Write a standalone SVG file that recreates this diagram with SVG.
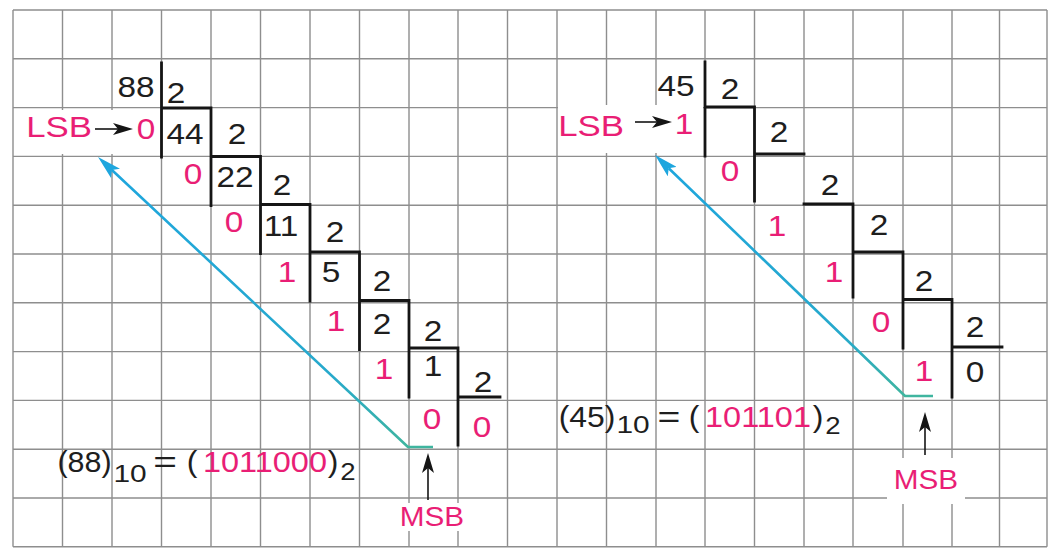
<svg xmlns="http://www.w3.org/2000/svg" width="1058" height="555" viewBox="0 0 1058 555">
<defs>
<style>
.grid{stroke:#8e8e8e;stroke-width:1.4;fill:none}
.div{stroke:#151515;stroke-width:2.8;fill:none;stroke-linecap:square}
text{font-family:"Liberation Sans",Arial,Helvetica,sans-serif}
.k{fill:#1e1e1e;font-size:29px;text-anchor:middle}
.m{fill:#e91e75;font-size:29px;text-anchor:middle}
.msb{font-size:27px}
.sub{font-size:23px}
.arr{stroke:#151515;stroke-width:1.6;fill:none}
.blue{stroke-width:2.6;fill:none;stroke-linejoin:round}
.mask{fill:#ffffff}
</style>
<marker id="ah" viewBox="0 0 20 12" refX="5" refY="6" markerWidth="20" markerHeight="12" markerUnits="userSpaceOnUse" orient="auto">
<path d="M0,0 L20,6 L0,12 L5,6 z" fill="#151515"/>
</marker>
<marker id="bh" viewBox="0 0 24 13" refX="5" refY="6.5" markerWidth="24" markerHeight="13" markerUnits="userSpaceOnUse" orient="auto">
<path d="M0,0 L24,6.5 L0,13 L5,6.5 z" fill="#1ea6de"/>
</marker>
<linearGradient id="gl" gradientUnits="userSpaceOnUse" x1="408" y1="447" x2="98" y2="157">
<stop offset="0" stop-color="#3fb59f"/><stop offset="0.25" stop-color="#27a9cc"/><stop offset="1" stop-color="#1ea6de"/>
</linearGradient>
<linearGradient id="gr" gradientUnits="userSpaceOnUse" x1="905" y1="396" x2="655" y2="155">
<stop offset="0" stop-color="#3fb59f"/><stop offset="0.25" stop-color="#27a9cc"/><stop offset="1" stop-color="#1ea6de"/>
</linearGradient>
</defs>
<rect x="0" y="0" width="1058" height="555" fill="#ffffff"/>
<g id="grid">
<path class="grid" d="M13,10V546.8 M62.5,10V546.8 M112,10V546.8 M161.5,10V546.8 M211,10V546.8 M260.5,10V546.8 M310,10V546.8 M359.5,10V546.8 M409,10V546.8 M458,10V546.8 M507.5,10V546.8 M557,10V546.8 M606.5,10V546.8 M656,10V546.8 M705,10V546.8 M754.5,10V546.8 M804,10V546.8 M853,10V546.8 M903,10V546.8 M952,10V546.8 M999.5,10V546.8 M1047,10V546.8 M13,10H1047 M13,58.8H1047 M13,107.6H1047 M13,156.4H1047 M13,205.2H1047 M13,254H1047 M13,302.8H1047 M13,351.6H1047 M13,400.4H1047 M13,449.2H1047 M13,498H1047 M13,546.8H1047"/>
</g>
<g id="label-backgrounds">
<rect class="mask" x="17" y="110" width="140" height="44"/>
<rect class="mask" x="558" y="105" width="145" height="48"/>
<rect class="mask" x="399" y="503" width="68" height="28"/>
<rect class="mask" x="887" y="458" width="78" height="46"/>
</g>
<g id="division-88">
<path class="div" d="M161.5,63V157 M161.5,108H211 M211,108V205.5 M211,156.5H260.5 M260.5,156.5V253.5 M260.5,204.5H310 M310,204.5V301 M310,252H359.5 M359.5,252V349.5 M359.5,300.5H409 M409,300.5V397 M409,348H458 M458,348V445 M458,397H500"/>
<text class="k" transform="translate(136,97) scale(1.15,1)">88</text>
<text class="k" transform="translate(176,103) scale(1.15,1)">2</text>
<text class="k" transform="translate(185,144) scale(1.15,1)">44</text>
<text class="k" transform="translate(237,144) scale(1.15,1)">2</text>
<text class="k" transform="translate(235,187) scale(1.15,1)">22</text>
<text class="k" transform="translate(282,195) scale(1.15,1)">2</text>
<text class="k" transform="translate(281,236) scale(1.15,1)">11</text>
<text class="k" transform="translate(335,242) scale(1.15,1)">2</text>
<text class="k" transform="translate(331,282) scale(1.15,1)">5</text>
<text class="k" transform="translate(382,291) scale(1.15,1)">2</text>
<text class="k" transform="translate(382,334) scale(1.15,1)">2</text>
<text class="k" transform="translate(433,341) scale(1.15,1)">2</text>
<text class="k" transform="translate(433,376) scale(1.15,1)">1</text>
<text class="k" transform="translate(483,392) scale(1.15,1)">2</text>
<text class="m" transform="translate(146,139) scale(1.15,1)">0</text>
<text class="m" transform="translate(193,184) scale(1.15,1)">0</text>
<text class="m" transform="translate(234,232) scale(1.15,1)">0</text>
<text class="m" transform="translate(287,282) scale(1.15,1)">1</text>
<text class="m" transform="translate(336,331) scale(1.15,1)">1</text>
<text class="m" transform="translate(384,379) scale(1.15,1)">1</text>
<text class="m" transform="translate(432,429) scale(1.15,1)">0</text>
<text class="m" transform="translate(482,437) scale(1.15,1)">0</text>
</g>
<g id="division-45">
<path class="div" d="M705,62V156 M705,107H754.5 M754.5,107V201 M754.5,154H804 M804,204H853 M853,204V297 M853,252H903 M903,252V348 M903,299.5H952 M952,299.5V397 M952,347H1002"/>
<text class="k" transform="translate(676,96) scale(1.15,1)">45</text>
<text class="k" transform="translate(730,99) scale(1.15,1)">2</text>
<text class="k" transform="translate(779,142) scale(1.15,1)">2</text>
<text class="k" transform="translate(830,195) scale(1.15,1)">2</text>
<text class="k" transform="translate(879,235) scale(1.15,1)">2</text>
<text class="k" transform="translate(924,291) scale(1.15,1)">2</text>
<text class="k" transform="translate(975,337) scale(1.15,1)">2</text>
<text class="k" transform="translate(975,382) scale(1.15,1)">0</text>
<text class="m" transform="translate(684,134) scale(1.15,1)">1</text>
<text class="m" transform="translate(730,181) scale(1.15,1)">0</text>
<text class="m" transform="translate(777,236) scale(1.15,1)">1</text>
<text class="m" transform="translate(834,282) scale(1.15,1)">1</text>
<text class="m" transform="translate(881,332) scale(1.15,1)">0</text>
<text class="m" transform="translate(924,381) scale(1.15,1)">1</text>
</g>
<g id="label-lsb-88"><text class="m" transform="translate(59,137) scale(1.2,1)">LSB</text></g>
<g id="label-msb-88"><text class="m msb" transform="translate(432,526) scale(1.1,1)">MSB</text></g>
<g id="label-lsb-45"><text class="m" transform="translate(591,136) scale(1.2,1)">LSB</text></g>
<g id="label-msb-45"><text class="m msb" transform="translate(926,489) scale(1.1,1)">MSB</text></g>
<g id="result-88">
<text class="k" transform="translate(84.5,472) scale(1.05,1)">(88)</text>
<text class="k sub" transform="translate(130,482) scale(1.3,1)">10</text>
<text class="k" transform="translate(165,472) scale(1.4,1)">=</text>
<text class="k" transform="translate(192,472) scale(1.1,1)">(</text>
<text class="m" transform="translate(265,472) scale(1.12,1)">1011000</text>
<text class="k" transform="translate(333,472) scale(1.1,1)">)</text>
<text class="k sub" transform="translate(348,480) scale(1.2,1)">2</text>
</g>
<g id="result-45">
<text class="k" transform="translate(587,427) scale(1.1,1)">(45)</text>
<text class="k sub" transform="translate(633,433) scale(1.3,1)">10</text>
<text class="k" transform="translate(669,427) scale(1.35,1)">=</text>
<text class="k" transform="translate(694,427) scale(1.1,1)">(</text>
<text class="m" transform="translate(758,427) scale(1.12,1)">101101</text>
<text class="k" transform="translate(818,427) scale(1.1,1)">)</text>
<text class="k sub" transform="translate(833,434) scale(1.2,1)">2</text>
</g>
<g id="connectors">
<path class="arr" d="M95,129H118" marker-end="url(#ah)"/>
<path class="arr" d="M635,122H657" marker-end="url(#ah)"/>
<path class="arr" d="M428,500V468" marker-end="url(#ah)"/>
<path class="arr" d="M925,455V427" marker-end="url(#ah)"/>
<path class="blue" stroke="url(#gl)" d="M433,447H408L111.9,170" marker-end="url(#bh)"/>
<path class="blue" stroke="url(#gr)" d="M933,396H905L668.7,168.2" marker-end="url(#bh)"/>
</g>
</svg>
